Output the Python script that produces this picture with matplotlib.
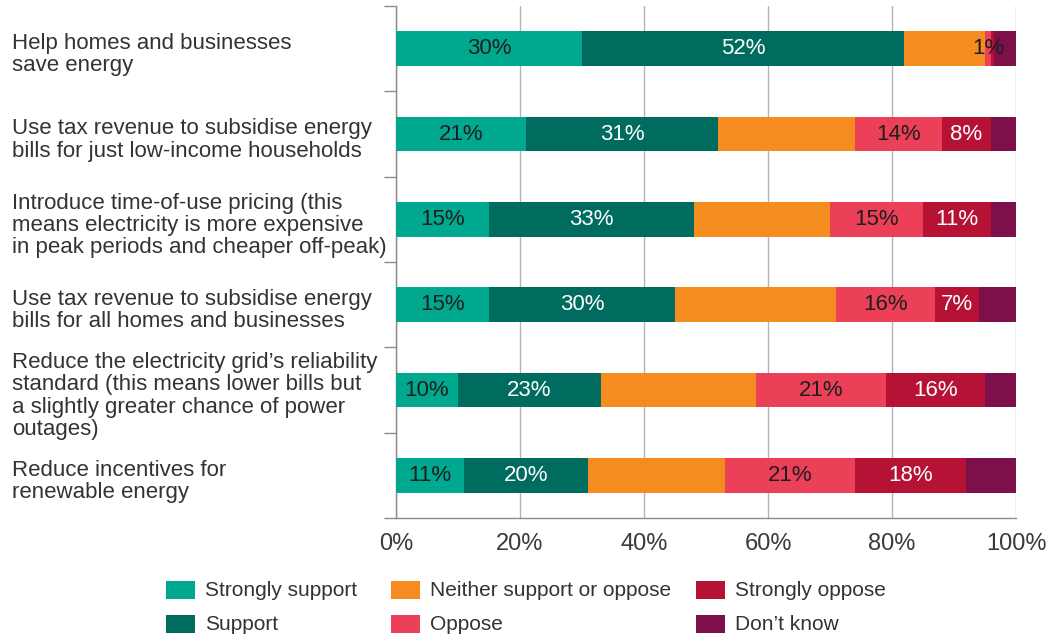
import numpy as np
import matplotlib.pyplot as plt
from matplotlib.patches import Rectangle

plt.rcParams['font.family'] = ['Liberation Sans', 'DejaVu Sans']

W, H = 1053, 638

# survey items, top to bottom
questions = [
    "Help homes and businesses\nsave energy",
    "Use tax revenue to subsidise energy\nbills for just low-income households",
    "Introduce time-of-use pricing (this\nmeans electricity is more expensive\nin peak periods and cheaper off-peak)",
    "Use tax revenue to subsidise energy\nbills for all homes and businesses",
    "Reduce the electricity grid\u2019s reliability\nstandard (this means lower bills but\na slightly greater chance of power\noutages)",
    "Reduce incentives for\nrenewable energy",
]

responses = ["Strongly support", "Support", "Neither support or oppose",
             "Oppose", "Strongly oppose", "Don\u2019t know"]

strongly_support = [30, 21, 15, 15, 10, 11]
support = [52, 31, 33, 30, 23, 20]
neither = [13, 22, 22, 26, 25, 22]
oppose = [1, 14, 15, 16, 21, 21]
strongly_oppose = [0.4, 8, 11, 7, 16, 18]
dont_know = [3.6, 4, 4, 6, 5, 8]

# which segments get a value label, per row
labelled = [
    [True, True, False, True, False, False],
    [True, True, False, True, True, False],
    [True, True, False, True, True, False],
    [True, True, False, True, True, False],
    [True, True, False, True, True, False],
    [True, True, False, True, True, False],
]

colors = ["#00a88f", "#006b5f", "#f48c20", "#ec4058", "#b51236", "#7d0f4b"]
text_colors = ["#1e1e1e", "white", "#1e1e1e", "#1e1e1e", "white", "white"]

series = [strongly_support, support, neither, oppose, strongly_oppose, dont_know]

fig = plt.figure(figsize=(W / 100, H / 100), dpi=100)
ax = fig.add_axes([396 / W, 1 - 518 / H, 620 / W, 512 / H])

y = np.arange(len(questions))
left = np.zeros(len(questions))
for k, vals in enumerate(series):
    vals = np.array(vals, dtype=float)
    ax.barh(y, vals, left=left, height=0.41, color=colors[k],
            label=responses[k], zorder=3)
    for i, v in enumerate(vals):
        if labelled[i][k]:
            ax.text(left[i] + v / 2, y[i], f"{v:.0f}%", ha="center",
                    va="center", fontsize=16, color=text_colors[k], zorder=4)
    left += vals

ax.set_xlim(0, 100)
ax.set_ylim(len(questions) - 0.5, -0.5)
ax.set_xticks(np.arange(0, 101, 20))
ax.set_xticklabels([f"{t}%" for t in range(0, 101, 20)])
ax.tick_params(axis="x", length=0, labelsize=17, colors="#3a3a3a", pad=11)

# small ticks between categories, no category text on the axis
ax.set_yticks(np.arange(-0.5, len(questions), 1))
ax.set_yticklabels([])
ax.tick_params(axis="y", length=9, color="#8a8a8a", width=1)

ax.grid(axis="x", color="#b4b4b4", linewidth=1, zorder=0)
for side in ["top", "right"]:
    ax.spines[side].set_visible(False)
for side in ["left", "bottom"]:
    ax.spines[side].set_color("#8a8a8a")
    ax.spines[side].set_linewidth(1)

# question text at the far left of the figure
for i, q in enumerate(questions):
    ypix = ax.transData.transform((0, y[i] + 0.07))[1]
    fig.text(12 / W, ypix / H, q, ha="left", va="center", fontsize=16,
             color="#333333", linespacing=1.07)

# legend laid out by hand: three columns, two rows
col_x = [166, 391, 696]
row_y = [590, 624]
for k, (c, r) in enumerate(zip(colors, responses)):
    cx = col_x[k // 2]
    cy = row_y[k % 2]
    fig.add_artist(Rectangle((cx / W, 1 - (cy + 9) / H), 29 / W, 18 / H,
                             transform=fig.transFigure, facecolor=c,
                             edgecolor="none"))
    fig.text((cx + 39) / W, 1 - cy / H, r, ha="left", va="center",
             fontsize=15, color="#333333")

fig.savefig("out.png", dpi=100)
